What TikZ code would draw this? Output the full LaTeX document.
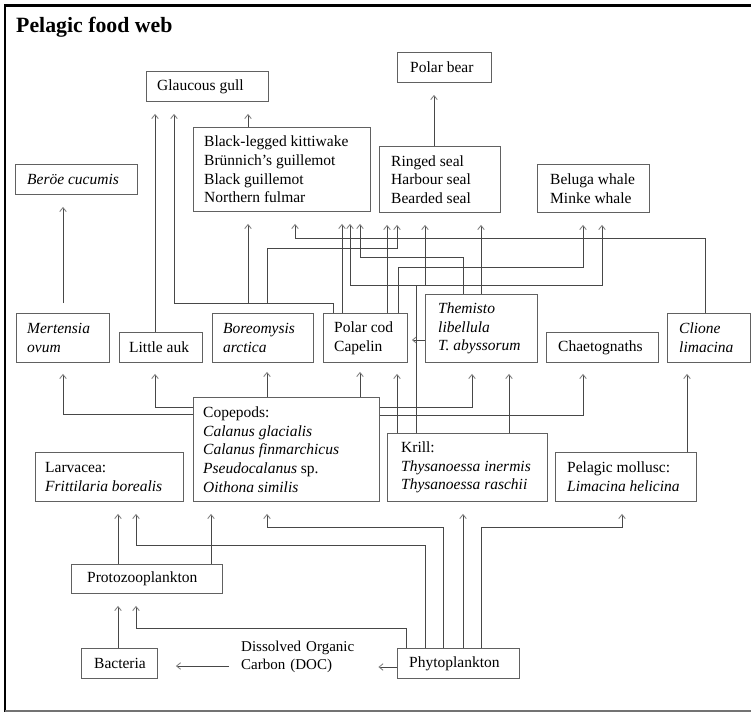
\documentclass[tikz,border=0pt]{standalone}
\usepackage{fontspec}
\setmainfont{Liberation Serif}
\usetikzlibrary{arrows.meta}
\newcommand\fwb[7]{%
  \pgfmathsetmacro\fwW{#4-#2}\pgfmathsetmacro\fwH{#5-#3}%
  \node[fwbox,minimum width=\fwW pt,minimum height=\fwH pt,anchor=north west] (#1) at (#2,#3) {};
  \node[fwtxt,anchor=west] (#1t) at ([xshift=#6pt]#1.west) {#7};}
\begin{document}
\begin{tikzpicture}[x=1pt,y=-1pt,
  fwbox/.style={draw=black!62,line width=0.9pt,inner sep=0,rectangle},
  fwtxt/.style={inner sep=0,align=left,font=\fontsize{15.5}{18.7}\selectfont},
  arr/.style={draw=black!72,line width=0.85pt,-{Straight Barb[length=4pt,width=6.5pt,color=black!50]},shorten >=12pt},
]
\useasboundingbox (0,0) rectangle (751,713);
\fill[white] (0,0) rectangle (751,713);
% frame
\draw[black,line width=3pt] (5,5) -- (751,5);
\draw[black,line width=2pt] (5,4) -- (5,712);
\draw[black!55,line width=1.5pt] (5,711) -- (751,711);
\node[anchor=base west,inner sep=0,font=\bfseries\fontsize{21.8}{24}\selectfont] (title) at (16,32.7) {Pelagic food web};
% boxes
\fwb{gg}{146}{71}{268}{101}{11}{Glaucous gull}
\fwb{pb}{397}{52}{491}{82}{13}{Polar bear}
\fwb{bb}{193}{127}{370}{211}{11}{Black-legged kittiwake\\Brünnich's guillemot\\Black guillemot\\Northern fulmar}
\fwb{be}{15}{164}{137}{194}{12}{\textit{Beröe cucumis}}
\fwb{rs}{379}{146}{500}{212}{12}{Ringed seal\\Harbour seal\\Bearded seal}
\fwb{bw}{537}{164}{649}{212}{13}{Beluga whale\\Minke whale}
\fwb{mo}{16}{313}{109}{362}{11}{\textit{Mertensia}\\\textit{ovum}}
\fwb{la}{119}{332}{202}{362}{10}{Little auk}
\fwb{bo}{212}{313}{313}{362}{11}{\textit{Boreomysis}\\\textit{arctica}}
\fwb{pc}{323}{313}{407}{362}{11}{Polar cod\\Capelin}
\fwb{th}{425}{294}{537}{362}{13}{\textit{Themisto}\\\textit{libellula}\\\textit{T. abyssorum}}
\fwb{ch}{546}{332}{658}{362}{12}{Chaetognaths}
\fwb{cl}{667}{313}{750}{362}{12}{\textit{Clione}\\\textit{limacina}}
\fwb{cp}{193}{397}{379}{501}{10}{Copepods:\\\textit{Calanus glacialis}\\\textit{Calanus finmarchicus}\\\textit{Pseudocalanus} sp.\\\textit{Oithona similis}}
\fwb{lv}{35}{452}{183}{501}{10}{Larvacea:\\\textit{Frittilaria borealis}}
\fwb{kr}{387}{433}{547}{501}{14}{Krill:\\\textit{Thysanoessa inermis}\\\textit{Thysanoessa raschii}}
\fwb{pm}{555}{452}{696}{501}{12}{Pelagic mollusc:\\\textit{Limacina helicina}}
\fwb{pz}{71}{564}{222}{593}{16}{Protozooplankton}
\fwb{ba}{81}{648}{157}{678}{13}{Bacteria}
\fwb{ph}{397}{648}{519}{678}{12}{Phytoplankton}
\node[fwtxt,anchor=west,text width=125pt,font=\fontsize{15}{18.7}\selectfont] (doc) at (241,657) {Dissolved Organic\\Carbon (DOC)};
% straight connectors
\draw[arr] (bb.north -| 248,0) -- (gg.south -| 248,0);
\draw[arr] (rs.north -| 434,0) -- (pb.south -| 434,0);
\draw[arr,shorten <=10pt] (mo.north -| 63,0) -- (be.south -| 63,0);
\draw[arr] (la.north -| 155,0) -- (gg.south -| 155,0);
\draw[arr] (pc.north -| 342,0) -- (bb.south -| 342,0);
\draw[arr] (pc.north -| 387,0) -- (rs.south -| 387,0);
\draw[arr] (th.north -| 481,0) -- (rs.south -| 481,0);
\draw[arr,shorten >=9pt] (cp.north -| 267,0) -- (bo.south -| 267,0);
\draw[arr,shorten >=9pt] (cp.north -| 360,0) -- (pc.south -| 360,0);
\draw[arr,shorten >=11pt] (kr.north -| 397,0) -- (pc.south -| 397,0);
\draw[arr,shorten >=11pt] (kr.north -| 509,0) -- (th.south -| 509,0);
\draw[arr,shorten >=11pt] (pm.north -| 687,0) -- (cl.south -| 687,0);
\draw[arr] (pz.north -| 118,0) -- (lv.south -| 118,0);
\draw[arr] (pz.north -| 211,0) -- (cp.south -| 211,0);
\draw[arr] (ba.north -| 118,0) -- (pz.south -| 118,0);
\draw[arr] (ph.north -| 463,0) -- (kr.south -| 463,0);
\draw[arr,shorten >=4pt] (th.west |- 0,340) -- (pc.east |- 0,340);
% elbow connectors
\draw[arr] (pc.north -| 333,0) -- (333,303) -| (gg.south -| 174,0);
\draw[arr,shorten <=10pt] (bo.north -| 248,0) -- (bb.south -| 248,0);
\draw[arr,shorten <=10pt] (bo.north -| 267,0) |- (397,248) -- (rs.south -| 397,0);
\draw[arr] (th.north -| 463,0) |- (360,257) -- (bb.south -| 360,0);
\draw[arr] (pc.north -| 398,0) |- (583,267) -- (bw.south -| 583,0);
\draw[arr] (kr.north -| 416,0) |- (350,285) -- (bb.south -| 350,0);
\draw[arr] (kr.north -| 416,0) |- (425,285) -- (rs.south -| 425,0);
\draw[arr] (kr.north -| 416,0) |- (602,285) -- (bw.south -| 602,0);
\draw[arr] (cl.north -| 705,0) |- (295,238) -- (bb.south -| 295,0);
\draw[arr,shorten >=11pt] (cp.west |- 0,407) -| (la.south -| 155,0);
\draw[arr,shorten >=11pt] (cp.west |- 0,414) -| (mo.south -| 63,0);
\draw[arr,shorten >=11pt] (cp.east |- 0,407) -| (th.south -| 472,0);
\draw[arr,shorten >=11pt] (cp.east |- 0,415) -| (ch.south -| 583,0);
\draw[arr] (ph.north -| 425,0) |- (136,545) -- (lv.south -| 136,0);
\draw[arr] (ph.north -| 443,0) |- (267,527) -- (cp.south -| 267,0);
\draw[arr] (ph.north -| 481,0) |- (622,527) -- (pm.south -| 622,0);
\draw[arr] (ph.north -| 406,0) |- (136,628) -- (pz.south -| 136,0);
\draw[arr] (ph.west |- 0,667) -- (doc.east |- 0,667);
\draw[arr,shorten <=12pt,shorten >=18pt] (doc.west |- 0,666) -- (ba.east |- 0,666);
\end{tikzpicture}
\end{document}
